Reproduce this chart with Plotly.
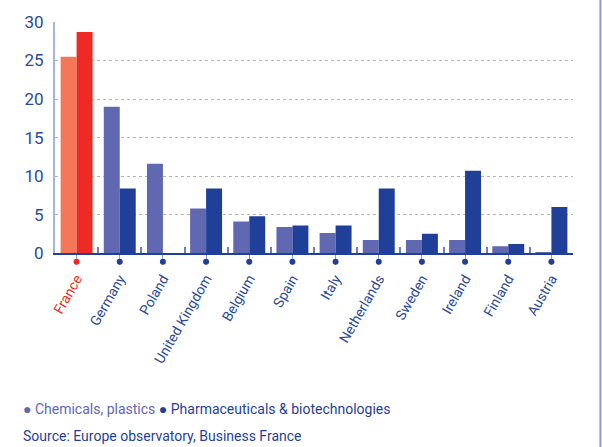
import plotly.graph_objects as go

countries = ["France", "Germany", "Poland", "United Kingdom", "Belgium", "Spain",
             "Italy", "Netherlands", "Sweden", "Ireland", "Finland", "Austria"]
chemicals = [25.5, 19.0, 11.6, 5.8, 4.1, 3.4, 2.6, 1.7, 1.7, 1.7, 0.9, 0.1]
pharma = [28.7, 8.4, 0.0, 8.4, 4.8, 3.6, 3.6, 8.4, 2.5, 10.7, 1.2, 6.0]
yticks = [0, 5, 10, 15, 20, 25, 30]

FONT = "Roboto, sans-serif"
CHEM = "#5f68b1"
PHAR = "#1f3f99"
CHEM_FR = "#f47757"
PHAR_FR = "#ee2a24"
TXT = "#2a4a9a"

chem_colors = [CHEM_FR if c == "France" else CHEM for c in countries]
phar_colors = [PHAR_FR if c == "France" else PHAR for c in countries]
dot_colors = [PHAR_FR if c == "France" else PHAR for c in countries]
ticktext = [f"<span style='color:{PHAR_FR}'>{c}</span>" if c == "France" else c for c in countries]

H_PLOT = 250.0          # plot area height in px (margins t=20, b=177)
Y_DOM0 = 17.0 / H_PLOT  # main chart starts 17 px above plot-area bottom

fig = go.Figure()
fig.add_bar(x=countries, y=chemicals, marker=dict(color=chem_colors, line=dict(width=0)),
            name="Chemicals, plastics", showlegend=False)
fig.add_bar(x=countries, y=pharma, marker=dict(color=phar_colors, line=dict(width=0)),
            name="Pharmaceuticals & biotechnologies", showlegend=False)
# invisible trace on the overlay axis for boundary ticks
fig.add_scatter(x=countries, y=[0] * len(countries), xaxis="x2", yaxis="y", mode="markers",
                marker=dict(size=1, opacity=0), showlegend=False, hoverinfo="skip")
# tick-end dots in a thin strip under the axis
fig.add_scatter(x=countries, y=[0.5] * len(countries), xaxis="x3", yaxis="y3", mode="markers",
                marker=dict(size=6, color=dot_colors), cliponaxis=False,
                showlegend=False, hoverinfo="skip")

fig.update_layout(
    width=602, height=447,
    margin=dict(l=55, r=29, t=20, b=177),
    paper_bgcolor="white", plot_bgcolor="rgba(0,0,0,0)",
    barmode="group", bargap=0.26, bargroupgap=0,
    font=dict(family=FONT, color=TXT, size=14),
    xaxis=dict(
        anchor="y",
        type="category", categoryorder="array", categoryarray=countries,
        range=[-0.5, len(countries) - 0.5],
        tickmode="array", tickvals=countries, ticktext=ticktext,
        tickangle=-60, tickfont=dict(size=14, color=TXT, family=FONT),
        ticks="outside", ticklen=10, tickwidth=1, tickcolor="#8e9ad0",
        showline=True, linecolor=PHAR, linewidth=2, showgrid=False, zeroline=False,
    ),
    xaxis2=dict(
        anchor="y",
        type="category", categoryorder="array", categoryarray=countries,
        range=[-0.5, len(countries) - 0.5], overlaying="x", side="bottom", matches="x",
        tickson="boundaries", ticks="inside", ticklen=6, tickwidth=2, tickcolor="#6f7cc0",
        showticklabels=False, showline=False, showgrid=False, zeroline=False,
    ),
    xaxis3=dict(
        anchor="y3", matches="x", visible=False,
        type="category", categoryorder="array", categoryarray=countries,
        range=[-0.5, len(countries) - 0.5],
    ),
    yaxis=dict(
        domain=[Y_DOM0, 1], anchor="x",
        range=[0, 30], tickvals=yticks, ticktext=[str(v) for v in yticks],
        tickfont=dict(size=17, color=TXT, family=FONT),
        showgrid=True, gridcolor="#b5b5b5", griddash="dot", gridwidth=1,
        showline=True, linecolor="#aab3dc", linewidth=2, zeroline=False,
        ticks="", ticklabelstandoff=6,
    ),
    yaxis3=dict(domain=[0, Y_DOM0 - 0.001], anchor="x3", range=[0, 1], visible=False),
    shapes=[dict(type="line", xref="paper", yref="paper", x0=1.053, x1=1.053,
                 y0=-0.72, y1=1.1, line=dict(color="#8d9bd0", width=2))],
    annotations=[
        dict(xref="paper", yref="paper", x=-0.066, y=(270 - 410) / H_PLOT,
             xanchor="left", yanchor="middle",
             showarrow=False, font=dict(size=14, family=FONT),
             text=f"<span style='color:{CHEM}'>● Chemicals, plastics</span> "
                  f"<span style='color:{PHAR}'>● Pharmaceuticals &amp; biotechnologies</span>"),
        dict(xref="paper", yref="paper", x=-0.066, y=(270 - 437) / H_PLOT,
             xanchor="left", yanchor="middle",
             showarrow=False, font=dict(size=14, family=FONT, color=PHAR),
             text="Source: Europe observatory, Business France"),
    ],
)

fig.write_html("out.html")
